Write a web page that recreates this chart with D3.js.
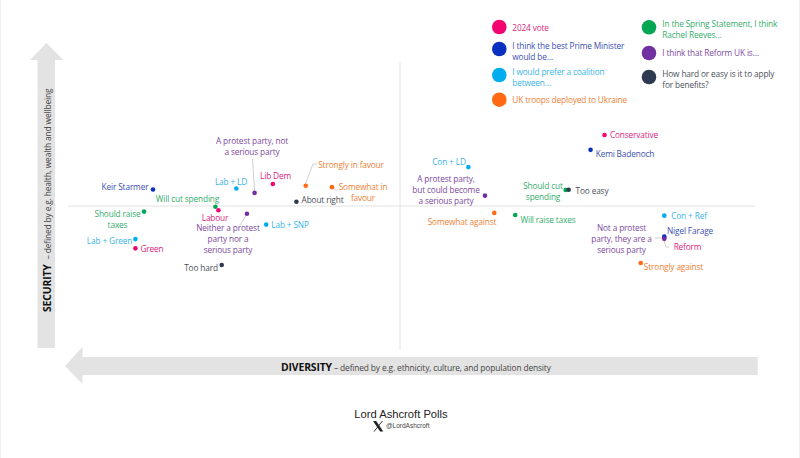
<!DOCTYPE html>
<html><head><meta charset="utf-8">
<script src="https://cdn.jsdelivr.net/npm/d3@7"></script>
<style>html,body{margin:0;padding:0;background:#fff}svg{display:block}text{font-family:"Open Sans",sans-serif}</style>
</head><body><svg id="c" width="800" height="458"></svg>
<script>
const groups = ["2024 vote","I think the best Prime Minister would be…","I would prefer a coalition between…","UK troops deployed to Ukraine","In the Spring Statement, I think Rachel Reeves…","I think that Reform UK is…","How hard or easy is it to apply for benefits?"];
const names = ["Keir Starmer","Lab + LD","A protest party, not a serious party","Lib Dem","Strongly in favour","Somewhat in favour","About right","Will cut spending","Labour","Neither a protest party nor a serious party","Lab + SNP","Should raise taxes","Lab + Green","Green","Too hard","Conservative","Kemi Badenoch","Con + LD","A protest party, but could become a serious party","Should cut spending","Too easy","Somewhat against","Will raise taxes","Con + Ref","Reform","Nigel Farage","Not a protest party, they are a serious party","Strongly against"];
const nameGroup = [1,2,5,0,3,3,6,4,0,5,2,4,2,0,6,0,1,2,5,4,6,3,4,2,0,1,5,3];
const diversity = [-74.4,-49.3,-43.8,-38.3,-28.4,-20.5,-31.2,-55.6,-54.7,-46.1,-40.3,-77.1,-79.7,-79.7,-53.7,61.6,57.4,20.6,25.6,49.9,50.8,28.4,34.7,79.6,79.6,79.6,79.6,72.5];
const security = [11.5,12.2,9.1,15.3,14.1,13.1,3,-0.5,-3,-5.4,-12.9,-3.9,-23,-29.4,-41,49.3,39,27,7.2,11.1,11.3,-4.8,-6.3,-6.7,-22.1,-21.3,-22.8,-39.6];

const groupColor = ["#f2056f","#0b2fc0","#00aeef","#ff6a13","#00a651","#7030a0","#2d3a4f"];
const textColor  = ["#d9267e","#3b4fb0","#38b4e6","#ee8136","#35ad6c","#7d4a9e","#4b4f57"];

const svg = d3.select("#c");
const x = d3.scaleLinear().domain([-100,100]).range([68,732]);
const y = d3.scaleLinear().domain([-100,100]).range([350,62]);

// page edge
svg.append("rect").attr("x",.5).attr("y",-2).attr("width",799).attr("height",462).attr("fill","none").attr("stroke","#f1f1f1");

// quadrant lines
svg.append("line").attr("x1",x(-100)).attr("x2",755).attr("y1",y(0)).attr("y2",y(0)).attr("stroke","#e2e2e2").attr("stroke-width",1);
svg.append("line").attr("x1",x(0)).attr("x2",x(0)).attr("y1",62).attr("y2",350).attr("stroke","#e2e2e2").attr("stroke-width",1);

// axis arrows
svg.append("path").attr("d","M46.5,43L63.5,60H55V348H37.5V60H30Z").attr("fill","#e3e3e3");
svg.append("path").attr("d","M65,366L82.5,347V357H757.7V375H82.5V384Z").attr("fill","#e3e3e3");

const axisSpacing = "-0.14px";
const yT = svg.append("text").attr("transform","translate(50.5,312) rotate(-90)").attr("font-size",8.4).attr("fill","#444").attr("letter-spacing",axisSpacing);
yT.append("tspan").text("SECURITY").attr("font-weight",700).attr("font-size",10.4).attr("fill","#111");
yT.append("tspan").text(" – defined by e.g. health, wealth and wellbeing").attr("dx",3);
const xT = svg.append("text").attr("x",281).attr("y",370.5).attr("font-size",8.4).attr("fill","#444").attr("letter-spacing",axisSpacing);
xT.append("tspan").text("DIVERSITY").attr("font-weight",700).attr("font-size",10.4).attr("fill","#111");
xT.append("tspan").text(" – defined by e.g. ethnicity, culture, and population density");

// connectors
const leaders = [
 [[254.7,193],[252.5,159]],[[305,185],[313,164],[317,164]],[[333,188],[337,191]],
 [[247,214],[240,225]],[[664,238],[655,238]],[[664,240],[666,247],[669,247]]
];
svg.append("g").selectAll("path").data(leaders).join("path").attr("d",d3.line()).attr("fill","none").attr("stroke","#c4c4c4").attr("stroke-width",.8);

// points
svg.append("g").selectAll("circle").data(names).join("circle")
 .attr("cx",(d,i)=>x(diversity[i])).attr("cy",(d,i)=>y(security[i])).attr("r",2.3)
 .attr("fill",(d,i)=>groupColor[nameGroup[i]]);

// label placement
const place = {
"Keir Starmer":[["Keir Starmer"],125,189.5],
"Lab + LD":[["Lab + LD"],231,184.5],
"A protest party, not a serious party":[["A protest party, not","a serious party"],252,144],
"Lib Dem":[["Lib Dem"],275.5,178.5],
"Strongly in favour":[["Strongly in favour"],351,168],
"Somewhat in favour":[["Somewhat in","favour"],363,190],
"About right":[["About right"],322.5,203],
"Will cut spending":[["Will cut spending"],187.5,202],
"Labour":[["Labour"],215,221],
"Neither a protest party nor a serious party":[["Neither a protest","party nor a","serious party"],228,231],
"Lab + SNP":[["Lab + SNP"],290,228],
"Should raise taxes":[["Should raise","taxes"],117.5,217],
"Lab + Green":[["Lab + Green"],109.5,244],
"Green":[["Green"],152,251.5],
"Too hard":[["Too hard"],201,271],
"Conservative":[["Conservative"],634,138],
"Kemi Badenoch":[["Kemi Badenoch"],625,157],
"Con + LD":[["Con + LD"],449,165],
"A protest party, but could become a serious party":[["A protest party,","but could become","a serious party"],446,182],
"Should cut spending":[["Should cut","spending"],543,189],
"Too easy":[["Too easy"],592,194],
"Somewhat against":[["Somewhat against"],462,225],
"Will raise taxes":[["Will raise taxes"],548,223],
"Con + Ref":[["Con + Ref"],689,219],
"Nigel Farage":[["Nigel Farage"],690,234],
"Not a protest party, they are a serious party":[["Not a protest","party, they are a","serious party"],621.5,231],
"Reform":[["Reform"],687.5,250],
"Strongly against":[["Strongly against"],673.5,270]
};
const fs = 8.3, lh = 10.8;
function multi(g,lines,px,py,anchor,color){
 lines.forEach((l,i)=>g.append("text").attr("x",px).attr("y",py+i*lh).attr("text-anchor",anchor).attr("font-size",fs).attr("letter-spacing","-0.15px").attr("fill",color).text(l));
}
const lab = svg.append("g");
names.forEach((n,i)=>{const p=place[n];multi(lab,p[0],p[1],p[2],"middle",textColor[nameGroup[i]]);});

// legend
const legendPos = [
 [[499.3,27],["2024 vote"],[512.3,30.7]],
 [[499.3,49],["I think the best Prime Minister","would be…"],[512.3,49]],
 [[499.3,75],["I would prefer a coalition","between…"],[512.3,74.7]],
 [[499.3,99.7],["UK troops deployed to Ukraine"],[512.3,102.7]],
 [[649,27.3],["In the Spring Statement, I think","Rachel Reeves…"],[662.3,27]],
 [[649,53],["I think that Reform UK is…"],[662.3,56]],
 [[649,77],["How hard or easy is it to apply","for benefits?"],[662.3,77.3]]
];
const leg = svg.append("g");
groups.forEach((g,i)=>{
 const L=legendPos[i];
 leg.append("circle").attr("cx",L[0][0]).attr("cy",L[0][1]).attr("r",7.3).attr("fill",groupColor[i]);
 multi(leg,L[1],L[2][0],L[2][1],"start",textColor[i]);
});

// footer
svg.append("text").attr("x",401).attr("y",418).attr("text-anchor","middle").attr("font-size",11.2).attr("fill","#222").style("font-family","Liberation Sans").text("Lord Ashcroft Polls");
svg.append("path").attr("d","M373,421H376.2L383.3,431.6H380.1Z").attr("fill","#222");
svg.append("path").attr("d","M382.4,421L374,431.6").attr("stroke","#222").attr("stroke-width",.9).attr("fill","none");
svg.append("text").attr("x",386).attr("y",428).attr("font-size",6.5).attr("fill","#444").style("font-family","Liberation Sans").text("@LordAshcroft");
</script></body></html>
